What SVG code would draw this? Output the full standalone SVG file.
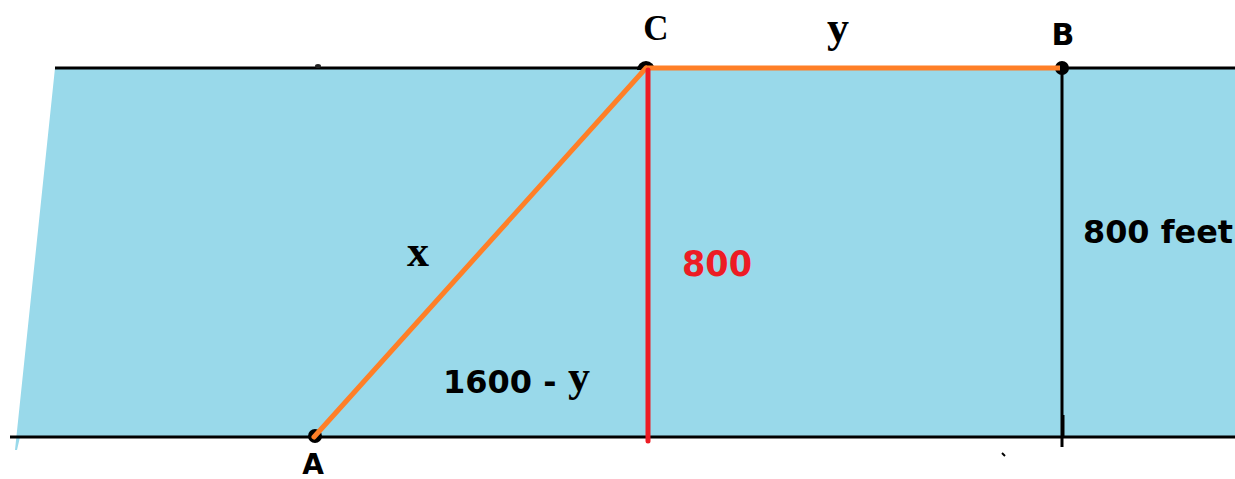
<svg xmlns="http://www.w3.org/2000/svg" width="1235" height="479" viewBox="0 0 1235 479">
<style>
.sans{font-family:"DejaVu Sans","Liberation Sans",sans-serif;font-weight:bold}
.serif{font-family:"Liberation Serif","DejaVu Serif",serif;font-weight:bold}
.blk{stroke:#000;stroke-width:3;fill:none}
.dot{fill:#000}
</style>
<rect width="1235" height="479" fill="#fff"/>
<g id="river">
<polygon points="55,68 1235,68 1235,437 20,437 17,450 15,450" fill="#99D9EA"/>
<line class="blk" x1="55" y1="68" x2="1235" y2="68"/>
<line class="blk" x1="10" y1="437" x2="1235" y2="437"/>
<line class="blk" x1="1062" y1="68" x2="1062" y2="447"/>
<line x1="1063.5" y1="415" x2="1063.5" y2="437" stroke="#000" stroke-width="2"/>
<ellipse cx="318" cy="66" rx="3" ry="2" fill="#222"/>
<line x1="1002" y1="453" x2="1005" y2="456" stroke="#000" stroke-width="2"/>
</g>
<g id="node-A">
<circle class="dot" cx="315" cy="436" r="7"/>
<text class="sans" x="313" y="474" font-size="28" text-anchor="middle">A</text>
</g>
<g id="node-C">
<path d="M637,70 A9,9 0 0 1 655,70 Z" class="dot"/>
<text class="serif" x="656" y="40" font-size="35" text-anchor="middle">C</text>
</g>
<g id="node-B">
<circle class="dot" cx="1062" cy="68" r="7"/>
<text class="sans" x="1063" y="45" font-size="30" text-anchor="middle">B</text>
</g>
<g id="connectors">
<line x1="314" y1="437" x2="646" y2="68" stroke="#FF7F27" stroke-width="5" stroke-linecap="round"/>
<line x1="646" y1="68" x2="1060" y2="68" stroke="#FF7F27" stroke-width="5"/>
<line x1="648" y1="70" x2="648" y2="441" stroke="#ED1C24" stroke-width="5" stroke-linecap="round"/>
</g>
<g id="labels">
<text class="serif" x="838" y="42" font-size="44" text-anchor="middle">y</text>
<text class="serif" x="418" y="266" font-size="44" text-anchor="middle">x</text>
<text class="sans" x="682" y="276" font-size="35" fill="#ED1C24" textLength="70" lengthAdjust="spacingAndGlyphs">800</text>
<text class="sans" x="1083" y="243" font-size="32" textLength="150" lengthAdjust="spacingAndGlyphs">800 feet</text>
<text class="sans" x="443" y="393" font-size="32">1600 -</text>
<text class="serif" x="579" y="391" font-size="44" text-anchor="middle">y</text>
</g>
</svg>
